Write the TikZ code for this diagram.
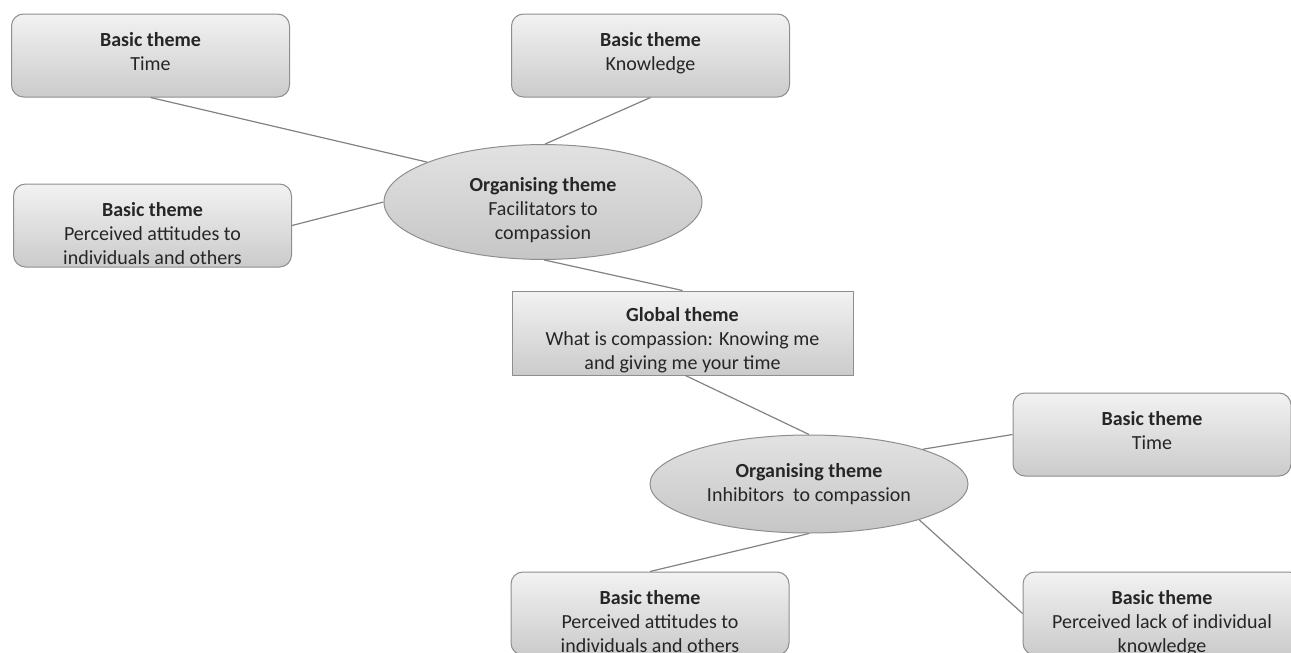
\documentclass[tikz,border=0pt]{standalone}
\usepackage{fontspec}
\setmainfont{Carlito}
\usetikzlibrary{positioning}
\usetikzlibrary{shapes.geometric}

\definecolor{boxtop}{HTML}{F2F2F2}
\definecolor{boxbot}{HTML}{CBCBCB}
\definecolor{elltop}{HTML}{E2E2E2}
\definecolor{ellbot}{HTML}{C6C6C6}
\definecolor{rim}{HTML}{8E8E8E}
\definecolor{link}{HTML}{828282}

% text hung from the top of a box: height, width, first baseline, title, body
\newcommand{\themetext}[5]{\parbox[c][#1][t]{#2}{\centering\rule{0pt}{#3}\textbf{#4}\\#5}}

\tikzset{
  theme/.style={draw=rim, line width=1pt, align=center, inner sep=0pt,
    font=\fontsize{20}{24}\selectfont, text=black!85},
  basic/.style={theme, rectangle, rounded corners=12pt, minimum width=278pt,
    minimum height=83pt, top color=boxtop, bottom color=boxbot},
  global/.style={theme, rectangle, minimum width=341pt, minimum height=84pt,
    top color=boxtop, bottom color=boxbot},
  organising/.style={theme, ellipse, minimum width=318pt, minimum height=98pt,
    top color=elltop, bottom color=ellbot},
  edge/.style={draw=link, line width=1.2pt},
}

\begin{document}
\begin{tikzpicture}[x=1pt, y=-1pt, on grid]

    \useasboundingbox (0,0) rectangle (1291,653) ;  %
    \clip (0,0) rectangle (1291,653) ;  %

    \node[global] (glob) at (682.5,333) {\themetext{84pt}{341pt}{30pt}{Global theme}{What is compassion: Knowing me\\and giving me your time}} ;  %

    \node[organising, above left=131pt and 139.5pt of glob] (orgfac) {\rule{0pt}{30pt}\textbf{Organising theme}\\Facilitators to\\compassion} ;  %
    \node[organising, below right=151pt and 126.5pt of glob] (orginh) {\textbf{Organising theme}\\Inhibitors\ \ to compassion} ;  %

    \node[basic, above left=146.5pt and 392.5pt of orgfac] (time1) {\themetext{83pt}{278pt}{32pt}{Basic theme}{Time}} ;  %
    \node[basic, above right=146.5pt and 107.5pt of orgfac] (knowl) {\themetext{83pt}{278pt}{32pt}{Basic theme}{Knowledge}} ;  %
    \node[basic, below left=23.5pt and 390.5pt of orgfac] (att1) {\themetext{83pt}{278pt}{32pt}{Basic theme}{Perceived attitudes to\\individuals and others}} ;  %

    \node[basic, above right=49.5pt and 343pt of orginh] (time2) {\themetext{83pt}{278pt}{32pt}{Basic theme}{Time}} ;  %
    \node[basic, below left=129.5pt and 159pt of orginh] (att2) {\themetext{83pt}{278pt}{32pt}{Basic theme}{Perceived attitudes to\\individuals and others}} ;  %
    \node[basic, below right=129.5pt and 353pt of orginh] (lack) {\themetext{83pt}{278pt}{32pt}{Basic theme}{Perceived lack of individual\\knowledge}} ;  %

    \draw[edge] (time1.south) -- (orgfac.161) ;  %
    \draw[edge] (knowl.south) -- (orgfac.88) ;  %
    \draw[edge] (att1.east) -- (orgfac.west) ;  %
    \draw[edge] (orgfac.271) -- (glob.north) ;  %

    \draw[edge] (glob.-86) -- (orginh.north) ;  %
    \draw[edge] (orginh.17) -- (time2.west) ;  %
    \draw[edge] (orginh.south) -- (att2.north) ;  %
    \draw[edge] (orginh.-18) -- (lack.west) ;  %

\end{tikzpicture}
\end{document}
